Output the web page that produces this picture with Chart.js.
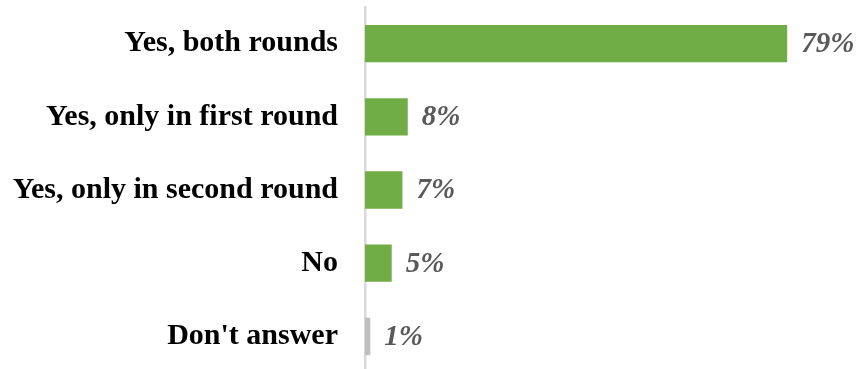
<!DOCTYPE html>
<html>
<head>
<meta charset="utf-8">
<script src="https://cdn.jsdelivr.net/npm/chart.js@4"></script>
<style>
  html, body { margin: 0; padding: 0; background: #fff; overflow: hidden; }
  #wrap { position: relative; width: 862px; height: 373px; }
</style>
</head>
<body>
<div id="wrap"><canvas id="voteChart"></canvas></div>
<script>
// Data
const categories = ["Yes, both rounds", "Yes, only in first round", "Yes, only in second round", "No", "Don't answer"];
const shares = [79, 8, 7, 5, 1];
const barColors = ["#70AD47", "#70AD47", "#70AD47", "#70AD47", "#BFBFBF"];

// Percentage labels at the end of each bar
const valueLabels = {
  id: "valueLabels",
  afterDatasetsDraw(chart) {
    const ctx = chart.ctx;
    const meta = chart.getDatasetMeta(0);
    ctx.save();
    ctx.font = "italic bold 29px 'Liberation Serif'";
    ctx.fillStyle = "#595959";
    ctx.textAlign = "left";
    ctx.textBaseline = "middle";
    meta.data.forEach((bar, i) => {
      ctx.fillText(shares[i] + "%", bar.x + 14, bar.y + 1);
    });
    ctx.restore();
  }
};

new Chart(document.getElementById("voteChart"), {
  type: "bar",
  data: {
    labels: categories,
    datasets: [{
      data: shares,
      backgroundColor: barColors,
      borderWidth: 0,
      categoryPercentage: 1,
      barPercentage: 0.51
    }]
  },
  options: {
    indexAxis: "y",
    responsive: true,
    maintainAspectRatio: false,
    animation: false,
    layout: { padding: { top: 7, right: 0, bottom: 0, left: 0 } },
    scales: {
      x: {
        display: false,
        min: 0,
        max: 93
      },
      y: {
        afterFit(scale) {
          scale.width = 365;
          scale.paddingTop = 0;
          scale.paddingBottom = 0;
        },
        grid: { display: false, drawTicks: false },
        border: { display: true, color: "#D9D9D9", width: 2.5 },
        ticks: {
          padding: 27,
          color: "#000",
          font: { family: "'Liberation Serif'", size: 30, weight: "bold" }
        }
      }
    },
    plugins: {
      legend: { display: false },
      tooltip: { enabled: false }
    }
  },
  plugins: [valueLabels]
});
</script>
</body>
</html>
